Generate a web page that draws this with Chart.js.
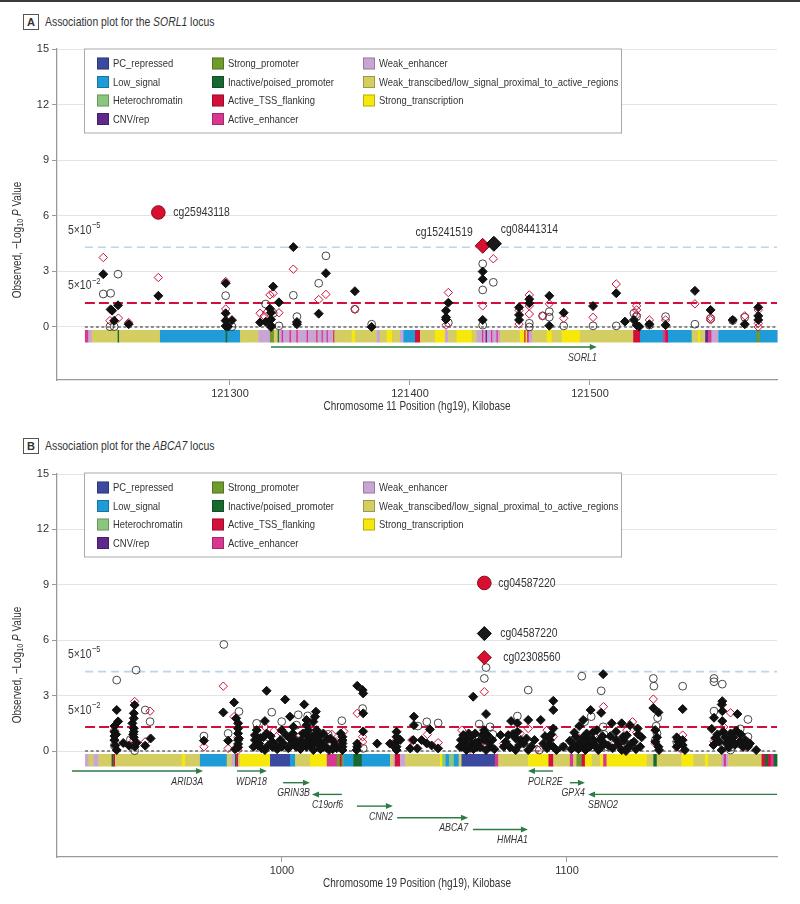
<!DOCTYPE html>
<html>
<head>
<meta charset="utf-8">
<script src="https://cdn.jsdelivr.net/npm/chart.js@4.4.1/dist/chart.umd.min.js"></script>
<style>
body { margin: 0; background: #fff; }
#page { position: relative; width: 800px; height: 904px; overflow: hidden; color: #333;
  font-family: 'Liberation Sans', Arial, sans-serif; }
.topline { position: absolute; left: 0; top: 0; width: 800px; height: 2px; background: #3a3a3a; }
.hdr { position: absolute; left: 23px; font-size: 13px; line-height: 16px; white-space: nowrap; }
.hdr .tag { display: inline-block; width: 14px; height: 14px; border: 1px solid #555; text-align: center;
  font-weight: bold; font-size: 11px; line-height: 14px; margin-right: 6px; vertical-align: top; }
.hdr .ttl { display: inline-block; transform: scaleX(0.8); transform-origin: 0 50%; }
canvas { position: absolute; left: 0; }
</style>
</head>
<body>
<div id="page">
  <div class="topline"></div>
  <div class="hdr" style="top:14px"><span class="tag">A</span><span class="ttl">Association plot for the <i>SORL1</i> locus</span></div>
  <canvas id="chartA" width="800" height="420" style="top:0"></canvas>
  <div class="hdr" style="top:438px"><span class="tag">B</span><span class="ttl">Association plot for the <i>ABCA7</i> locus</span></div>
  <canvas id="chartB" width="800" height="484" style="top:420px"></canvas>
</div>
<script>
// ===== shared =====
var yTicks = [0, 3, 6, 9, 12, 15];
var refP = [5e-5, 5e-2];
var stateNames = ['PC_repressed', 'Low_signal', 'Heterochromatin', 'CNV/rep', 'Strong_promoter',
  'Inactive/poised_promoter', 'Active_TSS_flanking', 'Active_enhancer', 'Weak_enhancer',
  'Weak_transcibed/low_signal_proximal_to_active_regions', 'Strong_transcription'];
var stateCodes = ['PC', 'LOW', 'HET', 'CNV', 'SP', 'IP', 'TSS', 'AE', 'WE', 'WT', 'ST'];
var stateColors = ['#3b4a9f', '#1f9cd8', '#8cc67e', '#5d2a8b', '#6e9b2c', '#17692f', '#d2103c',
  '#d8388f', '#c8a5d2', '#d3cd62', '#f6e80a'];

// ===== panel A : SORL1, chr11 (kb) =====
var xTicksA = [121300, 121400, 121500];
var blackDiamondA = [
  [121229.6, 2.85], [121233.7, 0.95], [121234.5, 0.88], [121237.8, 1.17], [121235.7, 0.34], [121243.7, 0.15], [121260.2, 1.68],
  [121297.6, 2.36], [121297.6, 0.74], [121297.6, 0.34], [121301.1, 0.37], [121297.6, 0.05], [121299, 0.02],
  [121316.7, 0.25], [121319.8, 0.28], [121324, 2.18], [121322.2, 0.99], [121322.8, 0.77], [121322.8, 0.41], [121322.8, 0.07],
  [121322.8, 0.0], [121327.2, 1.33], [121335.2, 4.31], [121337.2, 0.27], [121337.2, 0.15],
  [121353.3, 2.9], [121349.3, 0.72], [121369.4, 1.93], [121378.7, 0.0],
  [121440.4, 2.99], [121440.4, 2.58], [121440.4, 0.38],
  [121421.3, 1.31], [121420, 0.88], [121420, 0.52], [121420, 0.41],
  [121460.6, 1.06], [121460.6, 0.65], [121460.6, 0.38], [121466.3, 1.5], [121466.3, 1.28],
  [121477.4, 1.68], [121477.4, 0.07], [121485.4, 0.77], [121501.7, 1.13], [121514.6, 1.82], [121519.4, 0.29],
  [121524.4, 0.38], [121525.9, 0.1], [121527.4, 0.02], [121533, 0.15], [121542, 0.1], [121558.3, 1.95],
  [121567, 0.92], [121579.3, 0.38], [121586, 0.15], [121593.5, 1.06], [121593.5, 0.6], [121593.5, 0.38]
];
var openCircleA = [
  [121237.8, 2.85], [121229.6, 1.78], [121233.7, 1.82], [121233.3, 0.02], [121235.7, 0.02],
  [121297.6, 1.69], [121301.1, 0.02], [121319.8, 1.24], [121324, 0.74], [121327.2, 0.06],
  [121335.2, 1.71], [121337.2, 0.56], [121353.3, 3.84], [121349.3, 2.36], [121369.4, 0.96], [121378.7, 0.15],
  [121446.3, 2.41], [121440.4, 3.41], [121440.4, 2.0], [121440.4, 0.1], [121421.3, 0.23],
  [121466.3, 0.2], [121466.3, 0.0], [121473.7, 0.6], [121477.4, 0.83], [121477.4, 0.53],
  [121485.4, 0.06], [121501.7, 0.06], [121514.6, 0.06], [121524.4, 0.74], [121525.9, 0.56],
  [121533, 0.1], [121542, 0.56], [121558.3, 0.15], [121567, 0.45], [121579.3, 0.35], [121586, 0.52]
];
var redDiamondA = [
  [121229.6, 3.75], [121233.3, 0.34], [121238, 0.48], [121243.7, 0.24], [121260.2, 2.67],
  [121297.6, 2.45], [121297.6, 0.97], [121297.6, 0.37],
  [121316.7, 0.74], [121319, 0.59], [121320.5, 0.8], [121322.2, 1.73], [121324, 1.82], [121327.2, 0.77],
  [121335.2, 3.12], [121353.3, 1.76], [121349.3, 1.48], [121369.4, 0.96],
  [121446.3, 3.68], [121440.4, 1.14], [121421.3, 1.86], [121420, 0.1],
  [121460.6, 0.16], [121460.6, 0.9], [121466.3, 1.73], [121466.3, 1.14], [121466.3, 0.7],
  [121473.7, 0.6], [121477.4, 1.25], [121485.4, 0.47], [121501.7, 0.52], [121514.6, 2.32],
  [121525.9, 1.14], [121525.9, 0.92], [121525.9, 0.65], [121533, 0.38], [121542, 0.38],
  [121558.3, 1.25], [121567, 0.52], [121567, 0.38], [121586, 0.6],
  [121593.5, 0.92], [121593.5, 0.2], [121593.5, 0.0]
];
var hitRedCircleA = [{ x: 121260.2, y: 6.18, id: 'cg25943118' }];
var hitRedDiamondA = [{ x: 121440.4, y: 4.38, id: 'cg15241519' }];
var hitBlackDiamondA = [{ x: 121446.6, y: 4.49, id: 'cg08441314' }];
var bandBreaksA = [121219.4, 121221.3, 121223.2, 121237.6, 121238.4, 121261.1, 121297.6, 121298.6, 121305.6,
  121315.7, 121322.2, 121324.4, 121326.5, 121327.2, 121328.7, 121329.6, 121333, 121334, 121336.8, 121337.7,
  121342.6, 121343.4, 121348, 121348.6, 121350.9, 121351.6, 121353.7, 121354.4, 121357.4, 121358, 121367.6,
  121369.5, 121381.5, 121383.4, 121387, 121390, 121394.4, 121396.3, 121402.8, 121405.6, 121413.9, 121419.4,
  121421.3, 121425.9, 121434.3, 121437, 121440, 121440.8, 121442, 121442.8, 121445, 121445.8, 121448,
  121448.8, 121450, 121461, 121463.5, 121464.2, 121465, 121466, 121468, 121476, 121478.7, 121484.3,
  121494.4, 121524, 121527.8, 121540.6, 121541.8, 121543.3, 121556.5, 121560, 121561, 121564, 121565.7,
  121567.5, 121571.3, 121592.6, 121594.4, 121604];
var bandStatesA = ['AE', 'WE', 'WT', 'IP', 'WT', 'LOW', 'IP', 'LOW', 'WT',
  'WE', 'SP', 'WT', 'IP', 'WE', 'AE', 'WE', 'AE', 'WE', 'AE',
  'WE', 'AE', 'WE', 'TSS', 'WE', 'AE', 'WE', 'AE', 'WE', 'TSS', 'WT',
  'ST', 'WT', 'WE', 'WT', 'ST', 'WT', 'WE', 'LOW', 'TSS', 'WT', 'ST',
  'WE', 'WT', 'ST', 'WT', 'WE', 'AE', 'WE', 'CNV', 'WE', 'AE', 'WE',
  'AE', 'WE', 'WT', 'ST', 'TSS', 'ST', 'AE', 'WE', 'WT', 'ST', 'WT',
  'ST', 'WT', 'TSS', 'LOW', 'AE', 'TSS', 'LOW', 'WT', 'ST', 'WT', 'CNV',
  'AE', 'WE', 'LOW', 'SP', 'LOW'];
var geneNamesA = ['SORL1'];
var geneStartA = [121322.8];
var geneEndA = [121503.8];
var geneRowA = [0];

// ===== panel B : ABCA7, chr19 (kb) =====
var xTicksB = [1000, 1100];
var blackDiamondB = [
  [942, 2.22], [941.2, 1.35], [941.2, 1.04], [941.2, 0.81], [941.2, 0.59], [942, 0.05], [941.5, 0.3],
  [942.5, 1.6], [941.8, 0.9], [947.5, 1.5], [947.8, 0.9],
  [944.3, 0.43], [946.3, 0.29], [948.3, 2.49], [948, 2.04], [948, 1.77], [948, 1.23], [948, 1.04], [948, 0.74],
  [948.3, 0.23], [949, 0.45], [953.9, 0.68], [952, 0.29], [972.6, 0.56],
  [979.4, 2.09], [983.2, 2.63], [983.9, 1.77], [981.1, 0.56],
  [984.6, 1.5], [984.6, 1.22], [984.6, 0.95], [984.6, 0.59], [984.6, 0.38], [984.6, 0.2], [984.9, 0.68], [983.5, 0.1],
  [994.6, 3.26], [994, 1.62], [991.1, 1.13], [990.5, 0.86], [990.5, 0.59], [990, 0.23], [992.4, 0.7], [994.6, 0.95],
  [996.6, 0.5], [996.6, 0.23], [994, 0.05], [992, 0.4],
  [991.5, 0.3], [992.8, 0.15], [993.5, 0.75], [995.2, 0.3], [996, 0.8], [997.5, 0.35], [998.3, 0.1],
  [1001.1, 2.79], [999.9, 1.13], [999.4, 0.59], [999.9, 0.23], [1002.8, 1.86], [1004, 1.31], [1002.8, 0.68],
  [1005, 0.23], [1003.5, 0.45],
  [1000.5, 0.4], [1001.5, 0.85], [1002.2, 0.15], [1003.8, 0.95], [1004.6, 0.6], [1005.8, 0.35], [1006.7, 0.6], [1007.3, 0.95],
  [1007.8, 2.52], [1008.6, 1.68], [1008.6, 1.4], [1009.2, 1.13], [1008.6, 0.86], [1009.2, 0.59], [1008.6, 0.23],
  [1007.5, 0.4], [1006.5, 0.1],
  [1009.8, 0.3], [1010.4, 0.75], [1010.8, 0.4], [1011.8, 0.95], [1013.5, 0.1], [1014, 0.45], [1015.5, 0.2],
  [1016, 0.65], [1017.8, 0.1], [1018.2, 0.5],
  [1011.9, 2.13], [1011.6, 1.86], [1011, 1.59], [1012.2, 1.13], [1012.2, 0.59], [1012.8, 0.32], [1011, 0.05], [1013, 0.8],
  [1014.5, 0.95], [1014.5, 0.23], [1016.5, 0.05], [1017, 0.68], [1018.5, 0.3], [1019.2, 0.15],
  [1021.2, 0.77], [1021.2, 0.59], [1021.2, 0.4], [1021.2, 0.23], [1021.2, 0.05], [1020.6, 0.95],
  [1026.4, 3.53], [1028.3, 3.3], [1028.5, 3.12], [1028.5, 2.04], [1028.5, 1.06], [1026.4, 0.23], [1026.4, 0.4], [1026.2, 0.05],
  [1033.4, 0.4], [1037.9, 0.4],
  [1040.2, 1.04], [1040.2, 0.77], [1040.2, 0.5], [1040.2, 0.23], [1040.2, 0.05], [1039, 0.3], [1041.5, 0.6],
  [1046.3, 1.86], [1046.3, 1.4], [1046.1, 0.59], [1049, 0.59], [1050.8, 0.41], [1045, 0.14], [1054.8, 0.14],
  [1051.9, 1.17], [1047.5, 0.14], [1052.5, 0.3],
  [1067.1, 2.94], [1071.6, 2.0], [1070.9, 1.13], [1063.6, 0.86], [1062.4, 0.23], [1064.9, 0.68], [1066.7, 0.4],
  [1067.8, 0.95], [1068.4, 0.23], [1070.9, 0.59], [1071.6, 0.05], [1072.1, 0.86], [1073.3, 0.23], [1063.1, 0.23],
  [1064.7, 0.05], [1065.5, 0.95], [1069, 0.5], [1066, 0.2],
  [1062.8, 0.6], [1063.8, 0.4], [1065, 0.3], [1066.3, 0.75], [1067.2, 0.1], [1068, 0.45], [1069.5, 0.2],
  [1070.2, 0.85], [1072.5, 0.45], [1073.8, 0.6], [1074.5, 0.1],
  [1076.7, 0.86], [1079.4, 0.86], [1077.8, 0.23], [1080.4, 1.62], [1082.6, 1.5], [1082.6, 1.04], [1082, 0.68],
  [1083.2, 0.32], [1082, 0.05], [1078.5, 0.5],
  [1080, 0.2], [1081, 0.9], [1083.8, 0.6], [1087.5, 0.25], [1088.6, 0.6], [1092.3, 0.8], [1093.8, 0.35],
  [1086.4, 1.68], [1085.8, 0.68], [1086.4, 0.05], [1084.8, 0.4],
  [1090.8, 1.68], [1095.2, 2.72], [1095.2, 2.22], [1095.2, 1.22], [1094, 0.59], [1095.2, 0.23], [1096.3, 0.05],
  [1091.7, 0.4], [1093, 0.15], [1094.5, 0.9], [1098.7, 0.23],
  [1104.3, 1.35], [1105.7, 1.68], [1108.3, 2.22], [1112.7, 4.16], [1112, 2.07], [1110.5, 1.13], [1109.3, 0.59],
  [1112.1, 0.23], [1103.1, 0.77], [1102, 0.4], [1103.5, 0.23], [1104.7, 0.5], [1106.9, 0.95], [1108, 0.23],
  [1106.5, 0.05], [1101.5, 0.1], [1107.5, 0.7], [1109.8, 0.3], [1111, 0.05],
  [1101, 0.55], [1102.6, 1.0], [1104, 0.1], [1105, 0.3], [1105.8, 0.75], [1106.3, 0.45], [1107, 0.2],
  [1108.6, 0.5], [1109, 1.0], [1110, 0.25], [1111.5, 0.6], [1112.5, 0.8], [1113.2, 0.4],
  [1115.7, 1.5], [1117.2, 1.04], [1117.3, 0.59], [1119.2, 1.5], [1122.1, 1.4], [1119.7, 0.77], [1122.6, 0.4],
  [1119.2, 0.05], [1120.7, 0.0], [1124.8, 1.22], [1126.2, 0.74], [1125.7, 0.23], [1121.5, 0.2], [1114.5, 0.3],
  [1115.2, 0.8], [1116, 0.15], [1118, 0.35], [1120, 0.55], [1121, 0.85], [1123.5, 0.5], [1124.2, 0.1], [1125, 0.9],
  [1130.3, 2.33], [1132.1, 2.09], [1131, 1.13], [1131.6, 0.74], [1131, 0.5], [1132.1, 0.23], [1132.3, 0.05],
  [1140.6, 2.27], [1138.5, 0.74], [1140.6, 0.59], [1140.6, 0.32], [1138.5, 0.23], [1141.4, 0.05], [1139, 0.5],
  [1154.5, 2.7], [1154.3, 2.52], [1151.6, 1.8], [1154.5, 2.16], [1154.5, 1.62], [1159.8, 2.0], [1154.8, 1.04],
  [1157.4, 0.95], [1151.4, 0.32], [1154.3, 0.05], [1157.6, 0.59], [1160.6, 0.5], [1161.7, 0.23], [1163.5, 0.23],
  [1166.4, 0.05], [1152, 0.7], [1156, 0.4], [1159, 0.35],
  [1150.8, 1.2], [1152.8, 0.9], [1153.5, 0.5], [1155.5, 0.75], [1156.8, 0.2], [1158.4, 0.75], [1159.4, 1.1],
  [1161, 0.9], [1162.5, 0.6], [1164.2, 0.4]
];
var openCircleB = [
  [942, 3.84], [948.8, 4.38], [941.2, 0.3], [948.3, 0.02], [946.8, 0.62], [952, 2.22], [953.7, 1.59],
  [972.6, 0.81], [979.6, 5.77], [981.1, 0.95], [984.9, 2.14],
  [991.1, 1.5], [996.4, 2.1], [999.9, 1.59], [994, 0.4],
  [1005.7, 1.96], [1005.1, 1.4], [1009, 1.9], [1013.3, 0.9], [1010.5, 1.2],
  [1016.2, 0.9], [1021, 1.64], [1028.3, 2.3], [1028.5, 0.14],
  [1047.7, 1.35], [1050.8, 1.58], [1054.8, 1.52],
  [1071.6, 4.52], [1071, 3.93], [1069.2, 1.46], [1073, 1.31], [1074, 0.9],
  [1082.6, 1.89], [1084.2, 0.5], [1086.4, 3.3], [1081.5, 0.95], [1090.3, 0.05], [1098.7, 0.23],
  [1105.2, 4.05], [1112, 3.26], [1108.5, 1.86], [1106.2, 1.59], [1112.7, 1.31], [1114.1, 0.23], [1110.9, 0.5], [1113, 0.9],
  [1118.3, 0.5], [1122, 0.3],
  [1130.3, 3.93], [1130.5, 3.51], [1131.8, 1.8], [1131.3, 1.35], [1131, 0.59], [1131.6, 0.95],
  [1140.6, 3.51], [1138.5, 0.5], [1139.5, 0.2],
  [1151.6, 3.93], [1151.6, 3.75], [1154.5, 3.62], [1151.6, 2.16], [1163.5, 1.71], [1160.8, 1.2], [1163.5, 0.77],
  [1157.4, 0.05], [1158, 0.23], [1160.2, 0.4]
];
var redDiamondB = [
  [941.2, 1.13], [941.2, 0.59], [942, 0.4], [948.3, 2.68], [948, 0.59], [948.3, 0.38], [953.7, 2.16], [952, 0.5],
  [972.6, 0.23], [979.4, 3.51], [983.2, 1.86], [984.6, 0.74], [981.1, 0.14], [984.6, 0.05],
  [994, 1.31], [992.5, 0.32], [997.2, 1.09], [990.8, 0.8],
  [999.9, 0.95], [1004, 0.32], [1006.5, 0.86], [1008, 0.59], [1011, 1.0],
  [1012.8, 0.95], [1014.5, 0.68], [1015, 0.4], [1017.5, 0.9], [1019, 0.5],
  [1021.7, 1.06], [1021.2, 0.5], [1026.4, 2.04], [1028.3, 0.77], [1028.3, 0.5],
  [1040.2, 0.59], [1045.6, 0.59], [1054.8, 0.45], [1051, 0.9], [1046, 0.3],
  [1071, 3.21], [1063.1, 1.13], [1067.8, 0.68], [1071.6, 0.4], [1077.8, 0.4], [1083.5, 0.95], [1066, 0.1],
  [1086.4, 1.22], [1093, 1.13], [1095.2, 0.77], [1089.5, 0.1],
  [1112.8, 2.4], [1109.4, 0.86], [1112.2, 0.4], [1104.5, 0.68], [1106, 0.3],
  [1123, 1.58], [1121, 1.13], [1124.5, 1.0], [1118.8, 0.3], [1116.5, 0.4],
  [1130.3, 2.81], [1131, 0.4], [1140.6, 0.86], [1140, 0.1],
  [1157.4, 2.07], [1154.5, 2.5], [1151.6, 0.5], [1155, 1.3], [1160, 0.9], [1163.5, 0.5], [1162, 0.2]
];
var hitRedCircleB = [{ x: 1071, y: 9.1, id: 'cg04587220' }];
var hitBlackDiamondB = [{ x: 1071, y: 6.36, id: 'cg04587220' }];
var hitRedDiamondB = [{ x: 1071, y: 5.06, id: 'cg02308560' }];
var bandBreaksB = [930.9, 932.1, 933.8, 935.6, 940.2, 940.8, 941.4, 964.8, 966, 971.2, 980.6, 982.3, 983.5,
  984, 984.6, 985.3, 995.8, 1002.8, 1004.6, 1009.8, 1015.7, 1019.2, 1020.3, 1020.9, 1021.5, 1025, 1028,
  1037.9, 1039, 1039.6, 1041.4, 1043.2, 1055.4, 1056.2, 1057.4, 1058.6, 1060.3, 1062, 1063, 1074.7, 1075.9,
  1086.4, 1093.5, 1095.2, 1101, 1102.2, 1103.3, 1105.1, 1106.3, 1108.7, 1111.6, 1112.7, 1113.9, 1128, 1130.3,
  1131.5, 1140.2, 1144.3, 1148.5, 1149.5, 1154.3, 1155, 1155.8, 1156.6, 1168.3, 1169.5, 1170.5, 1171.5,
  1172.5, 1173.7];
var bandStatesB = ['WE', 'WT', 'WE', 'WT', 'IP', 'TSS', 'WT', 'ST', 'WT', 'LOW', 'WT', 'WE',
  'IP', 'TSS', 'WT', 'ST', 'PC', 'LOW', 'WT', 'ST', 'AE', 'SP', 'TSS', 'SP', 'LOW', 'IP',
  'LOW', 'WT', 'WE', 'TSS', 'WE', 'WT', 'ST', 'HET', 'LOW', 'HET', 'LOW', 'WT', 'PC', 'AE',
  'WT', 'ST', 'TSS', 'WT', 'AE', 'WT', 'SP', 'TSS', 'ST', 'WT', 'ST', 'AE', 'ST', 'WT',
  'IP', 'WT', 'ST', 'WT', 'ST', 'WT', 'WE', 'AE', 'WE', 'WT', 'TSS', 'IP', 'TSS',
  'AE', 'IP'];
var geneNamesB = ['ARID3A', 'WDR18', 'GRIN3B', 'C19orf6', 'CNN2', 'ABCA7', 'HMHA1', 'POLR2E', 'GPX4', 'SBNO2'];
var geneStartB = [926.3, 984.2, 1000.4, 1021, 1026.3, 1040.4, 1067, 1095.1, 1101, 1173.7];
var geneEndB = [972.3, 994.7, 1009.8, 1010.5, 1038.9, 1065.3, 1086.3, 1086.3, 1106.3, 1107.4];
var geneRowB = [0, 0, 1, 2, 3, 4, 5, 0, 1, 2];

// ===== drawing =====
var FONT = "'Liberation Sans', Arial, sans-serif";
var TXT = '#333';
var SX = 0.8;   // the source uses a condensed face, squeeze canvas text to match

function toXY(arr) {
  return arr.map(function (p) { return { x: p[0], y: p[1] }; });
}

function fmtKb(v) {
  var s = String(v);
  return s.length > 4 ? s.slice(0, s.length - 3) + '\u200a' + s.slice(-3) : s;
}

// condensed text helper
function ctext(c, s, x, y, align, font) {
  c.save();
  c.font = font;
  c.textAlign = align;
  c.textBaseline = 'middle';
  c.translate(x, y);
  c.scale(SX, 1);
  c.fillText(s, 0, 0);
  c.restore();
}
function cwidth(c, s, font) {
  c.font = font;
  return c.measureText(s).width * SX;
}

function locusPlugin(p) {
  return {
    id: 'locus' + p.key,
    beforeDatasetsDraw: function (chart) {
      var c = chart.ctx, xs = chart.scales.x, ys = chart.scales.y;
      var top = ys.getPixelForValue(0) + 3, h = 12.5;
      c.save();
      // chromatin state band
      for (var i = 0; i < p.states.length; i++) {
        var a = xs.getPixelForValue(p.breaks[i]), b = xs.getPixelForValue(p.breaks[i + 1]);
        c.fillStyle = stateColors[stateCodes.indexOf(p.states[i])];
        c.fillRect(a, top, b - a + 0.4, h);
      }
      // gene arrows
      c.lineWidth = 1.4;
      for (var g = 0; g < p.genes.length; g++) {
        var x1 = xs.getPixelForValue(p.geneStart[g]), x2 = xs.getPixelForValue(p.geneEnd[g]);
        var dir = x2 > x1 ? 1 : -1;
        var y = top + h + 4.5 + p.geneRow[g] * 11.7;
        c.strokeStyle = '#2e7b45';
        c.fillStyle = '#2e7b45';
        c.beginPath(); c.moveTo(x1, y); c.lineTo(x2 - dir * 5, y); c.stroke();
        c.beginPath(); c.moveTo(x2, y); c.lineTo(x2 - dir * 7, y - 3); c.lineTo(x2 - dir * 7, y + 3); c.closePath(); c.fill();
        c.fillStyle = TXT;
        ctext(c, p.genes[g], x2, y + 10.5, dir > 0 ? 'right' : 'left', 'italic 11px ' + FONT);
      }
      c.restore();
    },
    afterDatasetsDraw: function (chart) {
      var c = chart.ctx, ys = chart.scales.y, ca = chart.chartArea;
      c.save();
      c.fillStyle = TXT;
      // threshold labels
      refP.forEach(function (pv) {
        var ex = Math.round(Math.log10(pv / 5));
        var x = ca.left + 11, y = ys.getPixelForValue(-Math.log10(pv)) - 17;
        var f = '13px ' + FONT;
        ctext(c, '5\u00d710', x, y, 'left', f);
        ctext(c, '\u2212' + (-ex), x + cwidth(c, '5\u00d710', f) + 0.5, y - 5, 'left', '9.5px ' + FONT);
      });
      // highlighted CpG labels
      chart.data.datasets.forEach(function (ds, di) {
        if (!ds.labelPos) return;
        var meta = chart.getDatasetMeta(di);
        meta.data.forEach(function (pt, k) {
          ctext(c, ds.data[k].id, pt.x + ds.labelPos.dx, pt.y + ds.labelPos.dy, ds.labelPos.align, '13px ' + FONT);
        });
      });
      // chromatin state legend
      var L = ca.left + 27.5, T = ca.top + p.legendDy, W = 537, H = 84;
      c.fillStyle = '#fff';
      c.fillRect(L, T, W, H);
      c.strokeStyle = '#a9a9a9';
      c.lineWidth = 1;
      c.strokeRect(L, T, W, H);
      var cols = [[0, 1, 2, 3], [4, 5, 6, 7], [8, 9, 10]];
      var colX = [12.5, 127.5, 278.5], rowY = [14.5, 33, 51.5, 70];
      cols.forEach(function (col, ci) {
        col.forEach(function (s, ri) {
          var sx = L + colX[ci], sy = T + rowY[ri];
          c.fillStyle = stateColors[s];
          c.fillRect(sx, sy - 6, 12, 12);
          c.strokeStyle = 'rgba(0,0,0,0.25)';
          c.strokeRect(sx + 0.5, sy - 5.5, 11, 11);
          c.fillStyle = TXT;
          ctext(c, stateNames[s], sx + 16, sy + 0.5, 'left', '11.8px ' + FONT);
        });
      });
      c.restore();
    },
    afterDraw: function (chart) {
      var c = chart.ctx, ca = chart.chartArea;
      c.save();
      c.fillStyle = TXT;
      // x title
      ctext(c, p.xTitle, (ca.left + ca.right) / 2, ca.bottom + 27, 'center', '12.5px ' + FONT);
      // y title, rotated, with subscript and italic P
      c.translate(18, p.yTitleY);
      c.rotate(-Math.PI / 2);
      var parts = [['Observed, \u2212Log', '12.5px ', 0], ['10', '9px ', 3], [' ', '12.5px ', 0],
        ['P', 'italic 12.5px ', 0], [' Value', '12.5px ', 0]];
      var total = 0;
      parts.forEach(function (pt) { total += cwidth(c, pt[0], pt[1] + FONT); });
      var x = -total / 2;
      parts.forEach(function (pt) {
        ctext(c, pt[0], x, pt[2], 'left', pt[1] + FONT);
        x += cwidth(c, pt[0], pt[1] + FONT);
      });
      c.restore();
    }
  };
}

function drawPanel(canvasId, p) {
  var refLine = function (y, color, w, dash) {
    return {
      data: [{ x: p.bandStart, y: y }, { x: p.xMax, y: y }],
      showLine: true, pointRadius: 0, borderColor: color, borderWidth: w, borderDash: dash
    };
  };
  var datasets = p.hits.concat([
    { label: 'filled diamond', data: toXY(p.black), pointStyle: 'rectRot', pointRadius: 4.5,
      backgroundColor: '#111', borderColor: '#111', borderWidth: 1 },
    { label: 'open red diamond', data: toXY(p.red), pointStyle: 'rectRot', pointRadius: 4.2,
      backgroundColor: 'rgba(0,0,0,0)', borderColor: '#d0103a', borderWidth: 1 },
    { label: 'open circle', data: toXY(p.open), pointStyle: 'circle', pointRadius: 3.9,
      backgroundColor: 'rgba(0,0,0,0)', borderColor: '#333', borderWidth: 0.9 },
    refLine(-Math.log10(refP[0]), '#bcd5ea', 1.6, [8, 5]),
    refLine(-Math.log10(refP[1]), '#d0103a', 2, [10, 4]),
    refLine(0, '#6a6a6a', 1.4, [3, 2.5])
  ]);
  return new Chart(document.getElementById(canvasId), {
    type: 'scatter',
    data: { datasets: datasets },
    options: {
      responsive: false,
      animation: false,
      events: [],
      layout: { padding: { top: p.padTop, right: 23, left: 0, bottom: 0 } },
      plugins: { legend: { display: false }, tooltip: { enabled: false } },
      scales: {
        x: {
          type: 'linear', min: p.xMin, max: p.xMax,
          afterBuildTicks: function (s) { s.ticks = p.xTicks.map(function (v) { return { value: v }; }); },
          afterFit: function (s) { s.height = p.axisH; },
          grid: { drawOnChartArea: false, tickLength: 5, tickColor: '#999' },
          border: { color: '#9a9a9a', width: 1.3 },
          ticks: { color: TXT, padding: 2, font: { family: FONT, size: 11 }, callback: fmtKb, maxRotation: 0 }
        },
        y: {
          min: p.yMin, max: 15,
          afterBuildTicks: function (s) { s.ticks = yTicks.map(function (v) { return { value: v }; }); },
          afterFit: function (s) { s.width = 57; },
          grid: { color: '#e4e4e4', tickLength: 5, tickColor: '#999' },
          border: { color: '#9a9a9a', width: 1.3 },
          ticks: { color: TXT, padding: 3, font: { family: FONT, size: 11 } }
        }
      }
    },
    plugins: [locusPlugin(p)]
  });
}

drawPanel('chartA', {
  key: 'A', xMin: 121203.9, xMax: 121603.9, yMin: -2.86, padTop: 49, axisH: 40,
  xTicks: xTicksA, bandStart: bandBreaksA[0], legendDy: 0, yTitleY: 240,
  xTitle: 'Chromosome 11 Position (hg19), Kilobase',
  black: blackDiamondA, open: openCircleA, red: redDiamondA,
  breaks: bandBreaksA, states: bandStatesA,
  genes: geneNamesA, geneStart: geneStartA, geneEnd: geneEndA, geneRow: geneRowA,
  hits: [
    { data: hitBlackDiamondA, pointStyle: 'rectRot', pointRadius: 7.5, backgroundColor: '#1a1a1a',
      borderColor: '#000', borderWidth: 1, labelPos: { dx: 7, dy: -14, align: 'left' } },
    { data: hitRedDiamondA, pointStyle: 'rectRot', pointRadius: 7.5, backgroundColor: '#d7102f',
      borderColor: '#8a0a1c', borderWidth: 1, labelPos: { dx: -10, dy: -13, align: 'right' } },
    { data: hitRedCircleA, pointStyle: 'circle', pointRadius: 6.8, backgroundColor: '#d7102f',
      borderColor: '#8a0a1c', borderWidth: 1, labelPos: { dx: 15, dy: 0, align: 'left' } }
  ]
});

drawPanel('chartB', {
  key: 'B', xMin: 921.05, xMax: 1173.7, yMin: -5.74, padTop: 54, axisH: 47,
  xTicks: xTicksB, bandStart: bandBreaksB[0], legendDy: -1, yTitleY: 245,
  xTitle: 'Chromosome 19 Position (hg19), Kilobase',
  black: blackDiamondB, open: openCircleB, red: redDiamondB,
  breaks: bandBreaksB, states: bandStatesB,
  genes: geneNamesB, geneStart: geneStartB, geneEnd: geneEndB, geneRow: geneRowB,
  hits: [
    { data: hitRedCircleB, pointStyle: 'circle', pointRadius: 6.8, backgroundColor: '#d7102f',
      borderColor: '#8a0a1c', borderWidth: 1, labelPos: { dx: 14, dy: 0, align: 'left' } },
    { data: hitBlackDiamondB, pointStyle: 'rectRot', pointRadius: 7, backgroundColor: '#1a1a1a',
      borderColor: '#000', borderWidth: 1, labelPos: { dx: 16, dy: 0, align: 'left' } },
    { data: hitRedDiamondB, pointStyle: 'rectRot', pointRadius: 7, backgroundColor: '#d7102f',
      borderColor: '#8a0a1c', borderWidth: 1, labelPos: { dx: 19, dy: 0, align: 'left' } }
  ]
});
</script>
</body>
</html>
